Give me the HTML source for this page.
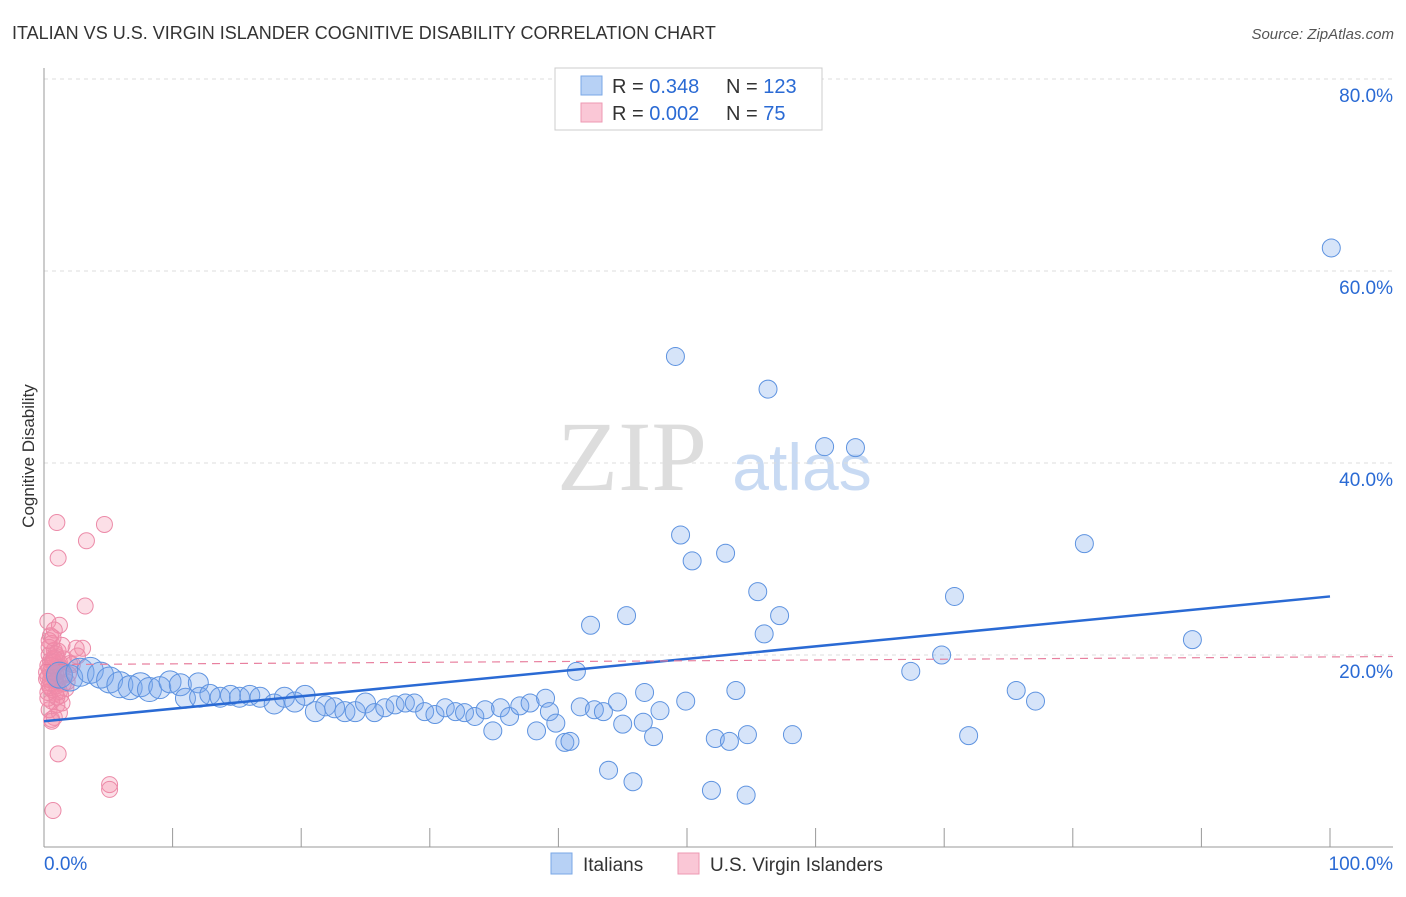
<!DOCTYPE html>
<html><head><meta charset="utf-8"><style>
body{margin:0;background:#fff;font-family:"Liberation Sans",sans-serif}
svg text{font-family:"Liberation Sans",sans-serif}
</style></head><body>
<svg id="c" width="1406" height="892">
<text x="12" y="39" font-size="18" fill="#333">ITALIAN VS U.S. VIRGIN ISLANDER COGNITIVE DISABILITY CORRELATION CHART</text>
<text x="1394" y="39" font-size="15" fill="#555" font-style="italic" text-anchor="end">Source: ZipAtlas.com</text>
<text x="34" y="456" font-size="17" fill="#333" transform="rotate(-90 34 456)" text-anchor="middle">Cognitive Disability</text>
<text x="632" y="490" font-size="100" fill="#ddd" font-family="Liberation Serif" text-anchor="middle" style="font-family:'Liberation Serif',serif">ZIP</text>
<text x="802" y="490" font-size="66" fill="#c8daf3" text-anchor="middle">atlas</text>
<g id="grid"></g><g id="pink"></g><g id="blue"></g><g id="lines"></g>
<g>
<rect x="555" y="68" width="267" height="62" fill="#fff" stroke="#ccc"/>
<rect x="581" y="76" width="21" height="19" fill="#b7d1f5" stroke="#7aa7e6"/>
<rect x="581" y="103" width="21" height="19" fill="#fac7d6" stroke="#ee99b3"/>
<text x="612" y="93" font-size="20" fill="#333">R = <tspan fill="#2a6ad4">0.348</tspan></text>
<text x="726" y="93" font-size="20" fill="#333">N = <tspan fill="#2a6ad4">123</tspan></text>
<text x="612" y="120" font-size="20" fill="#333">R = <tspan fill="#2a6ad4">0.002</tspan></text>
<text x="726" y="120" font-size="20" fill="#333">N = <tspan fill="#2a6ad4"> 75</tspan></text>
</g>
<g>
<rect x="551" y="853" width="21" height="21" fill="#b7d1f5" stroke="#7aa7e6"/>
<text x="583" y="871" font-size="19" fill="#333">Italians</text>
<rect x="678" y="853" width="21" height="21" fill="#fac7d6" stroke="#ee99b3"/>
<text x="710" y="871" font-size="19" fill="#333">U.S. Virgin Islanders</text>
</g>
</svg>
<script>
const yTicks=[20,40,60,80];
const xLabels=["0.0%","100.0%"];
const blueX=[1.2,2.0,2.8,3.6,4.4,5.1,5.9,6.7,7.5,8.2,9.0,9.8,10.6,12.0,11.0,12.1,12.9,13.7,14.5,15.2,16.0,16.8,17.9,18.7,19.5,20.3,21.1,21.9,22.6,23.4,24.2,25.0,25.7,26.5,27.3,28.1,28.8,29.6,30.4,31.2,32.0,32.7,33.5,34.3,34.9,35.5,36.2,37.0,37.8,38.3,39.0,39.3,39.8,40.5,40.9,41.4,41.7,42.5,42.8,43.5,43.9,44.6,45.0,45.3,45.8,46.6,46.7,47.4,47.9,49.1,49.5,49.9,50.4,51.9,52.2,53.0,53.3,53.8,54.6,54.7,55.5,56.0,56.3,57.2,58.2,60.7,63.1,67.4,69.8,70.8,71.9,75.6,77.1,80.9,89.3,100.1];
const blueY=[17.9,17.6,18.2,18.4,17.9,17.4,16.9,16.6,16.9,16.4,16.6,17.2,16.9,17.1,15.5,15.6,15.9,15.6,15.8,15.6,15.8,15.6,14.9,15.6,15.1,15.8,14.1,14.7,14.5,14.1,14.1,15.0,14.0,14.5,14.8,15.0,15.0,14.1,13.8,14.5,14.1,14.0,13.6,14.3,12.1,14.5,13.6,14.7,15.0,12.1,15.5,14.1,12.9,10.9,11.0,18.3,14.6,23.1,14.3,14.1,8.0,15.1,12.8,24.1,6.8,13.0,16.1,11.5,14.2,51.1,32.5,15.2,29.8,5.9,11.3,30.6,11.0,16.3,5.4,11.7,26.6,22.2,47.7,24.1,11.7,41.7,41.6,18.3,20.0,26.1,11.6,16.3,15.2,31.6,21.6,62.4];
const blueR=[13,13,14,13,13,13,13,12,12,12,11,11,11,10,10,10,10,10,10,10,10,10,10,10,10,10,10,10,10,10,10,10,9,9,9,9,9,9,9,9,9,9,9,9,9,9,9,9,9,9,9,9,9,9,9,9,9,9,9,9,9,9,9,9,9,9,9,9,9,9,9,9,9,9,9,9,9,9,9,9,9,9,9,9,9,9,9,9,9,9,9,9,9,9,9,9];
const pinkX=[1.0,4.7,1.1,3.3,3.2,1.1,5.1,5.1,0.7,0.6,1.2,2.5,3.0,0.3,0.5,0.6,0.8,1.0,1.2,0.4,0.7,0.9,1.4,1.6,0.3,0.5,0.8,1.1,1.5,1.9,0.2,0.4,0.6,0.9,1.3,1.7,2.2,0.3,0.6,1.0,1.4,1.8,0.4,0.8,1.2,0.5,0.9,1.3,0.2,0.7,1.1,1.5,2.0,2.6,0.4,0.8,0.3,0.6,1.0,0.5,0.9,0.4,0.7,1.1,1.4,0.3,0.6,0.9,0.5,0.8,1.2,0.4,0.7,1.0,0.6];
const pinkY=[33.8,33.6,30.1,31.9,25.1,9.7,6.5,6.0,3.8,13.3,23.1,20.7,20.7,23.5,22.0,21.2,20.5,19.8,19.2,20.0,19.5,18.8,18.5,17.9,18.9,18.3,17.6,17.2,17.0,18.0,17.5,16.8,16.4,16.0,15.8,16.5,19.0,15.5,15.2,14.8,15.0,17.2,14.3,13.5,14.0,19.4,20.1,18.7,18.2,17.8,18.4,19.6,19.1,19.9,21.5,22.6,16.1,17.0,16.8,17.4,18.1,18.6,19.3,20.4,21.0,17.7,18.9,17.3,16.6,19.7,16.2,20.8,21.8,15.6,13.1];
const blueTrend=[13.1,26.1];
const pinkTrend=[19.0,19.8];
const X0=44,X1=1330,Y0=847,Y1=79;
const sx=v=>X0+(X1-X0)*v/100, sy=v=>Y0-(Y0-Y1)*v/80;
const NS="http://www.w3.org/2000/svg";
function mk(t,a,p){const e=document.createElementNS(NS,t);for(const k in a)e.setAttribute(k,a[k]);p.appendChild(e);return e;}
const grid=document.getElementById('grid');
for(const t of yTicks){
 const l=mk('line',{x1:X0,x2:1393,y1:sy(t),y2:sy(t),stroke:'#ddd','stroke-dasharray':'4 4'},grid);
 
 
 const tx=mk('text',{x:1393,y:sy(t)+23,'font-size':19,fill:'#2a6ad4','text-anchor':'end'},grid);
 tx.textContent=t.toFixed(1)+'%';
 
 
}
const ax=mk('line',{x1:X0,x2:1393,y1:Y0,y2:Y0,stroke:'#999'},grid);


const ay=mk('line',{x1:X0,x2:X0,y1:68,y2:Y0,stroke:'#999'},grid);


for(let i=1;i<=10;i++){
 const tk=mk('line',{x1:sx(i*10),x2:sx(i*10),y1:828,y2:Y0,stroke:'#999'},grid);
 
 
}
xLabels.forEach((s,i)=>{
 const t=mk('text',{x:i?1393:44,y:870,'font-size':19,fill:'#2a6ad4','text-anchor':i?'end':'start'},grid);
 t.textContent=s;
 
 
});
const pg=document.getElementById('pink');
pinkX.forEach((x,i)=>{
 const c=mk('circle',{cx:sx(x),cy:sy(pinkY[i]),r:8,fill:'rgba(245,140,170,0.28)',stroke:'#ec8aa8','stroke-width':1},pg);
 
 
});
const bg=document.getElementById('blue');
blueX.forEach((x,i)=>{
 const c=mk('circle',{cx:sx(x),cy:sy(blueY[i]),r:blueR[i]||9,fill:'rgba(120,165,235,0.3)',stroke:'#5e93e0','stroke-width':1},bg);
 
 
});
const lg=document.getElementById('lines');
const bl=mk('line',{x1:sx(0),x2:sx(100),y1:sy(blueTrend[0]),y2:sy(blueTrend[1]),stroke:'#2a6ad4','stroke-width':2.5},lg);


const pl=mk('line',{x1:sx(0),x2:1393,y1:sy(pinkTrend[0]),y2:sy(pinkTrend[0]+(pinkTrend[1]-pinkTrend[0])*(1393-X0)/(X1-X0)),stroke:'#e8809f','stroke-width':1.2,'stroke-dasharray':'8 6'},lg);


</script>
</body></html>
